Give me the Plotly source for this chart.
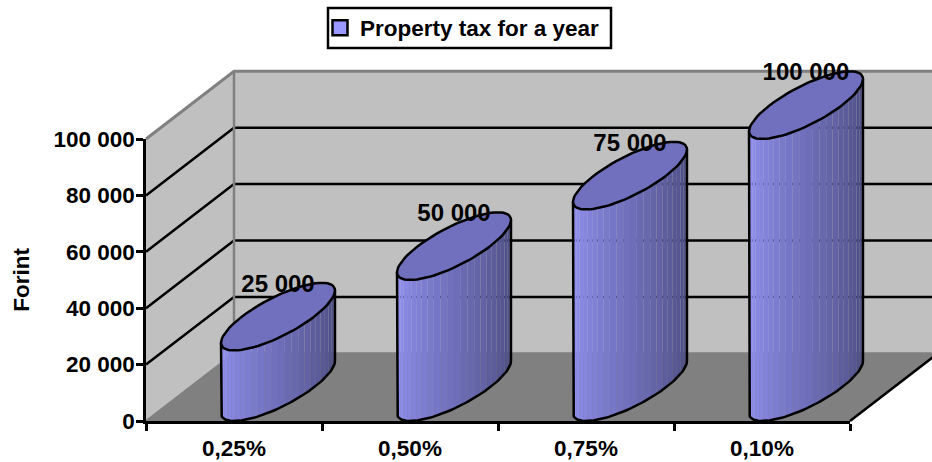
import math
import plotly.graph_objects as go

# Chart content
categories = ["0,25%", "0,50%", "0,75%", "0,10%"]
tax_values = [25000, 50000, 75000, 100000]
value_ticks = [0, 20000, 40000, 60000, 80000, 100000]
series_name = "Property tax for a year"
axis_title = "Forint"

# Canvas and plot frame, pixels
WIDTH, HEIGHT = 932, 462
LEFT, RIGHT, BASE, TOP = 146, 850, 421, 139
VALUE_MAX = 100000
FONT = dict(family="Liberation Sans, Arial, sans-serif", color="black", weight=700)

# Oblique projection: how far one full unit of depth shifts a point, in data units
PX_PER_CAT = (RIGHT - LEFT) / len(categories)
PX_PER_VALUE = (BASE - TOP) / VALUE_MAX
DEPTH_X = 0.5
DEPTH_Y = 24000
BAR_RADIUS = 0.2057
LABEL_DEPTH = 0.96

WALL = "#C0C0C0"
FLOOR = "#808080"
EDGE = "#808080"
LIGHT = (150, 150, 250)
DARK = (72, 72, 122)
CAP = "#7070BE"
SEGMENTS = 26
LINE = 2.5


def project(cat, value, depth):
    """Map category position, value and depth (0..1) onto the flat drawing axes."""
    return cat + DEPTH_X * depth, value + DEPTH_Y * depth


def poly(points, **style):
    xs, ys = zip(*[project(*p) for p in points])
    return go.Scatter(x=xs, y=ys, mode="lines", hoverinfo="skip", showlegend=False,
                      xaxis="x", yaxis="y", **style)


def filled(points, color):
    return poly(list(points) + [points[0]], fill="toself", fillcolor=color,
                line=dict(width=0, color=color))


def ring(cat, value, t):
    """Point on the circular section of a cylinder at angle t."""
    return cat + BAR_RADIUS * math.cos(t), value, 0.5 + 0.5 * math.sin(t)


fig = go.Figure()

n = len(categories)
c0, c1 = 0.5, n + 0.5
back_pts = [(c0, 0, 1), (c1, 0, 1), (c1, VALUE_MAX, 1), (c0, VALUE_MAX, 1)]
side_pts = [(c0, 0, 0), (c0, 0, 1), (c0, VALUE_MAX, 1), (c0, VALUE_MAX, 0)]
floor_pts = [(c0, 0, 0), (c1, 0, 0), (c1, 0, 1), (c0, 0, 1)]

# Walls and floor
fig.add_trace(filled(back_pts, WALL))
fig.add_trace(filled(side_pts, WALL))
fig.add_trace(filled(floor_pts, FLOOR))

# Gridlines run along the side wall and then the back wall
for v in value_ticks[1:-1]:
    fig.add_trace(poly([(c0, v, 0), (c0, v, 1), (c1, v, 1)],
                       line=dict(color="black", width=LINE)))

# Grey frame of the walls
fig.add_trace(poly([(c0, VALUE_MAX, 0), (c0, VALUE_MAX, 1), (c1, VALUE_MAX, 1)],
                   line=dict(color=EDGE, width=3)))
fig.add_trace(poly([(c0, 0, 1), (c0, VALUE_MAX, 1)], line=dict(color=EDGE, width=2.5)))
fig.add_trace(poly([(c0, 0, 0), (c0, 0, 1), (c1, 0, 1)], line=dict(color=EDGE, width=2)))
# Front-right floor edge
fig.add_trace(poly([(c1, 0, 0), (c1, 0, 1)], line=dict(color="black", width=LINE)))

# Silhouette tangent angles of the projected circle
tangent = math.atan2(DEPTH_X / 2, BAR_RADIUS)
start = tangent + math.pi * 1.0
stop = tangent + math.pi * 2.0

for i, value in enumerate(tax_values):
    cat = i + 1
    # Shaded side, built from narrow strips running light to dark
    for s in range(SEGMENTS):
        a = start + (stop - start) * s / SEGMENTS
        b = start + (stop - start) * (s + 1) / SEGMENTS
        f = (s + 0.5) / SEGMENTS
        rgb = tuple(round(LIGHT[k] + (DARK[k] - LIGHT[k]) * f) for k in range(3))
        color = "rgb(%d,%d,%d)" % rgb
        fig.add_trace(filled([ring(cat, 0, a), ring(cat, 0, b),
                              ring(cat, value, b), ring(cat, value, a)], color))
    # Outline of the side
    steps = [start + (stop - start) * s / 60 for s in range(61)]
    outline = [ring(cat, value, start)] + [ring(cat, 0, t) for t in steps] + [ring(cat, value, stop)]
    fig.add_trace(poly(outline, line=dict(color="black", width=LINE)))
    # Top cap
    cap = [ring(cat, value, 2 * math.pi * s / 72) for s in range(73)]
    fig.add_trace(poly(cap, fill="toself", fillcolor=CAP, line=dict(color="black", width=LINE)))

# Value labels near the far edge of each cap
fig.add_trace(go.Scatter(
    x=[i + 1 + DEPTH_X / 2 for i in range(n)],
    y=[project(i + 1, v, LABEL_DEPTH)[1] for i, v in enumerate(tax_values)],
    mode="text", text=[f"{v:,}".replace(",", " ") for v in tax_values],
    textposition="middle center", textfont=dict(size=24, **FONT),
    hoverinfo="skip", showlegend=False, xaxis="x", yaxis="y"))

# Trace on the visible axes so that they are laid out, plus the legend entry
fig.add_trace(go.Scatter(
    x=categories, y=tax_values, mode="markers", name=series_name,
    marker=dict(symbol="square", size=14, color="#9999FF", opacity=0),
    hoverinfo="skip", showlegend=False, xaxis="x2", yaxis="y2"))
fig.add_trace(go.Scatter(
    x=[None], y=[None], mode="markers", name=series_name,
    marker=dict(symbol="square", size=15, color="#9999FF",
                line=dict(color="black", width=2.5)),
    hoverinfo="skip", xaxis="x2", yaxis="y2"))

# Frame around the legend
fig.add_shape(type="rect", xref="paper", yref="paper", layer="below",
              x0=328 / WIDTH, x1=611 / WIDTH, y0=1 - 48 / HEIGHT, y1=1 - 8 / HEIGHT,
              line=dict(color="black", width=2.5), fillcolor="white")

fig.update_layout(
    width=WIDTH, height=HEIGHT,
    margin=dict(l=0, r=0, t=0, b=0, autoexpand=False),
    paper_bgcolor="white", plot_bgcolor="rgba(0,0,0,0)",
    separators=", ",
    font=dict(size=22, **FONT),
    showlegend=True,
    legend=dict(x=328 / WIDTH, y=1 - 28 / HEIGHT, xanchor="left", yanchor="middle",
                borderwidth=0, bgcolor="rgba(0,0,0,0)", indentation=-8,
                font=dict(size=22.5, **FONT), itemclick=False, itemdoubleclick=False),
    # Full-canvas axes used for the projected drawing
    xaxis=dict(domain=[0, 1], visible=False, fixedrange=True,
               range=[0.5 - LEFT / PX_PER_CAT, 0.5 + (WIDTH - LEFT) / PX_PER_CAT]),
    yaxis=dict(domain=[0, 1], visible=False, fixedrange=True,
               range=[-(HEIGHT - BASE) / PX_PER_VALUE, BASE / PX_PER_VALUE]),
    # Front axes with ticks and labels
    xaxis2=dict(domain=[LEFT / WIDTH, RIGHT / WIDTH], anchor="y2", type="category",
                categoryorder="array", categoryarray=categories,
                tickson="boundaries", range=[-0.5, n - 0.5],
                showgrid=False, zeroline=False, showline=True, linecolor="black", linewidth=LINE,
                ticks="outside", ticklen=7, tickwidth=2.5, tickcolor="black",
                ticklabelstandoff=5, tickfont=dict(size=22.5, **FONT), fixedrange=True),
    yaxis2=dict(domain=[(HEIGHT - BASE) / HEIGHT, (HEIGHT - TOP) / HEIGHT], anchor="x2",
                range=[0, VALUE_MAX], tickvals=value_ticks, tickformat=",d",
                showgrid=False, zeroline=False, showline=True, linecolor="black", linewidth=LINE,
                ticks="outside", ticklen=7, tickwidth=2.5, tickcolor="black",
                ticklabelstandoff=-3,
                tickfont=dict(size=22.5, **FONT), fixedrange=True,
                title=dict(text=axis_title, font=dict(size=22.5, **FONT), standoff=18)),
)

fig.write_html("out.html")
